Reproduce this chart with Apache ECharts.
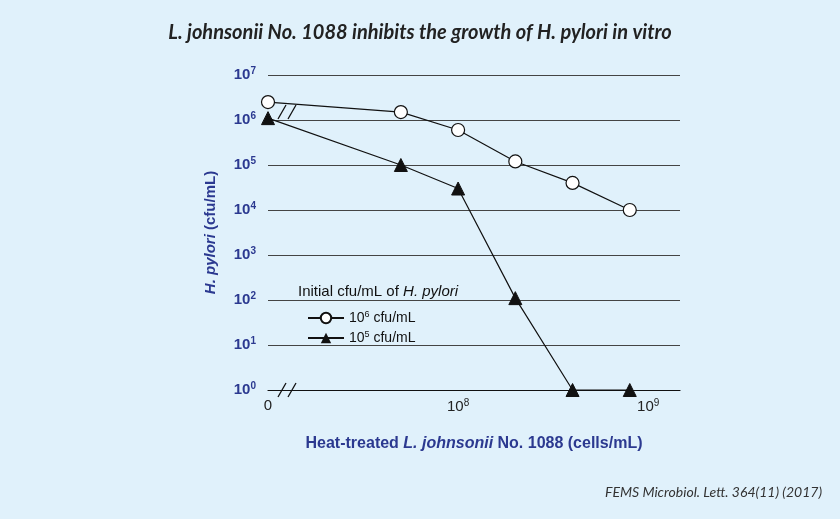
<!DOCTYPE html>
<html>
<head>
<meta charset="utf-8">
<script src="https://cdn.jsdelivr.net/npm/echarts@6/dist/echarts.min.js"></script>
<style>
  html, body { margin: 0; padding: 0; background: #e0f1fb; }
  #chart-container { width: 840px; height: 519px; }
</style>
</head>
<body>
<div id="chart-container"></div>
<script>
// x = cells/mL (the "0" point is drawn at 1e7 on the broken log axis)
var doses = [1e7, 5e7, 1e8, 2e8, 4e8, 8e8];
var high = [2.5e6, 1.5e6, 6e5, 1.2e5, 4e4, 1e4];
var low = [1.1e6, 1e5, 3e4, 110, 1, 1];
var seriesNames = ['10{s|6} cfu/mL', '10{s|5} cfu/mL'];

var dom = document.getElementById('chart-container');
var myChart = echarts.init(dom);
var blue = '#2b3990';

function pairs(ys) {
  return doses.map(function (x, i) { return [x, ys[i]]; });
}

function slash(x, y) {
  return {
    type: 'group',
    children: [
      { type: 'rect', shape: { x: x - 7, y: y - 4, width: 14, height: 8 }, style: { fill: '#e0f1fb' } },
      { type: 'line', shape: { x1: x - 9, y1: y + 7, x2: x - 1, y2: y - 7 }, style: { stroke: '#111', lineWidth: 1.3 } },
      { type: 'line', shape: { x1: x + 1, y1: y + 7, x2: x + 9, y2: y - 7 }, style: { stroke: '#111', lineWidth: 1.3 } }
    ]
  };
}

myChart.setOption({
  backgroundColor: '#e0f1fb',
  animation: false,
  title: {
    text: 'L. johnsonii No. 1088 inhibits the growth of H. pylori in vitro',
    left: 'center',
    top: 18,
    textStyle: { fontFamily: 'Lato', fontStyle: 'italic', fontWeight: 'bold', fontSize: 20, color: '#222' }
  },
  grid: { left: 268, right: 160, top: 75, bottom: 129 },
  legend: {
    left: 302, top: 305, orient: 'vertical', itemGap: 5, itemWidth: 36, itemHeight: 13,
    data: seriesNames,
    formatter: function (n) { return n; },
    textStyle: { fontFamily: 'Liberation Sans', fontSize: 14, color: '#111', rich: { s: { fontSize: 9, verticalAlign: 'top', padding: [0, 0, 7, 0] } } }
  },
  xAxis: {
    type: 'log', min: 1e7, max: 1.47e9, logBase: 10,
    axisLine: { lineStyle: { color: '#111', width: 1.2 } },
    axisTick: { show: false },
    splitLine: { show: false },
    axisLabel: {
      showMaxLabel: false,
      fontFamily: 'Liberation Sans', fontSize: 15, color: '#222',
      formatter: function (v) {
        var e = Math.round(Math.log10(v));
        if (e === 7) return '0';
        return '10{s|' + e + '}';
      },
      rich: { s: { fontSize: 10, verticalAlign: 'top', padding: [0, 0, 8, 0], color: '#222' } }
    },
    name: '{b|Heat-treated }{i|L. johnsonii}{b| No. 1088 (cells/mL)}',
    nameLocation: 'middle', nameGap: 46,
    nameTextStyle: {
      rich: {
        b: { fontFamily: 'Liberation Sans', fontWeight: 'bold', fontSize: 16, color: blue },
        i: { fontFamily: 'Liberation Sans', fontWeight: 'bold', fontStyle: 'italic', fontSize: 16, color: blue }
      }
    }
  },
  yAxis: {
    type: 'log', min: 1, max: 1e7, logBase: 10,
    axisLine: { show: false },
    axisTick: { show: false },
    splitLine: { lineStyle: { color: '#444', width: 1 } },
    axisLabel: {
      margin: 12,
      fontFamily: 'Liberation Sans', fontWeight: 'bold', fontSize: 15, color: blue,
      formatter: function (v) { return '10{s|' + Math.round(Math.log10(v)) + '}'; },
      rich: { s: { fontSize: 10, fontWeight: 'bold', color: blue, verticalAlign: 'top', padding: [0, 0, 8, 0] } }
    },
    name: '{i|H. pylori}{b| (cfu/mL)}',
    nameLocation: 'middle', nameGap: 50, nameRotate: 90,
    nameTextStyle: {
      rich: {
        b: { fontFamily: 'Liberation Sans', fontWeight: 'bold', fontSize: 15, color: blue },
        i: { fontFamily: 'Liberation Sans', fontWeight: 'bold', fontStyle: 'italic', fontSize: 15, color: blue }
      }
    }
  },
  series: [
    {
      name: seriesNames[0], type: 'line', data: pairs(high),
      symbol: 'circle', symbolSize: 13, z: 3,
      lineStyle: { color: '#111', width: 1.2 },
      itemStyle: { color: '#fff', borderColor: '#111', borderWidth: 1.2 }
    },
    {
      name: seriesNames[1], type: 'line', data: pairs(low),
      symbol: 'triangle', symbolSize: 13, z: 3,
      lineStyle: { color: '#111', width: 1.2 },
      itemStyle: { color: '#111', borderColor: '#111' }
    }
  ],
  graphic: [
    {
      type: 'text', left: 298, top: 284,
      style: {
        text: 'Initial cfu/mL of {i|H. pylori}',
        fontFamily: 'Liberation Sans', fontSize: 15, fill: '#111',
        rich: { i: { fontStyle: 'italic', fontFamily: 'Liberation Sans', fontSize: 15, color: '#111' } }
      }
    },
    slash(287, 112),
    slash(287, 390),
    {
      type: 'text', right: 18, top: 485,
      style: { text: 'FEMS Microbiol. Lett. 364(11) (2017)', fontFamily: 'Lato', fontStyle: 'italic', fontSize: 14, fill: '#333' }
    }
  ]
});

window.addEventListener('resize', myChart.resize);
</script>
</body>
</html>
